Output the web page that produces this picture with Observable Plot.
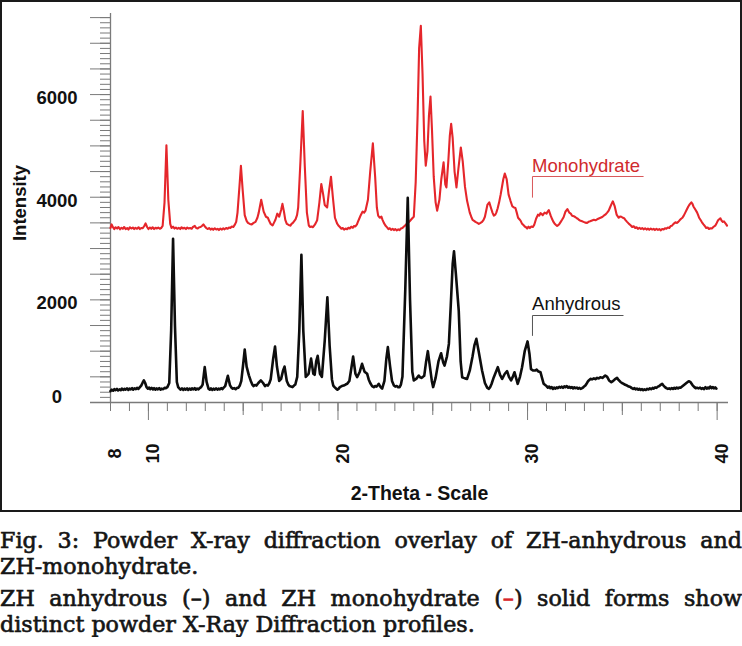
<!DOCTYPE html>
<html>
<head>
<meta charset="utf-8">
<script src="https://cdn.jsdelivr.net/npm/d3@7"></script>
<script src="https://cdn.jsdelivr.net/npm/@observablehq/plot@0.6"></script>
<style>
  html, body { margin: 0; padding: 0; background: #fff; }
  #wrap { position: relative; width: 742px; }
  #frame { position: absolute; left: 0; top: 0; width: 742px; height: 512px; box-sizing: border-box; border: 2px solid #1a1a1a; pointer-events: none; }
  #chart svg { display: block; }
  .cap { width: 742px; font-family: "DejaVu Serif", serif; font-weight: normal; font-size: 22.2px; color: #151515; line-height: 26px; -webkit-text-stroke: 0.65px #151515; }
  .cap .j { text-align: justify; text-align-last: justify; }
  .cap .l { text-align: left; }
  .red { color: #d8262b; -webkit-text-stroke: 0.65px #d8262b; }
</style>
</head>
<body>
<div id="wrap">
  <div id="chart"></div>
  <div id="frame"></div>
</div>
<div class="cap" style="margin-top:15px">
  <div class="j">Fig. 3: Powder X-ray diffraction overlay of ZH-anhydrous and</div>
  <div class="l">ZH-monohydrate.</div>
  <div class="j" style="margin-top:6px">ZH anhydrous (–) and ZH monohydrate (<span class="red">–</span>) solid forms show</div>
  <div class="l">distinct powder X-Ray Diffraction profiles.</div>
</div>
<script>
// ---- data: [2-theta (deg), intensity (counts)] ----
const anhydrous = [
[8.0,220],[8.07,250],[8.14,230],[8.2,260],[8.27,240],[8.34,265],[8.4,235],[8.47,255],[8.54,240],[8.6,270],
[8.67,245],[8.74,265],[8.8,250],[8.87,275],[8.94,245],[9.0,270],[9.07,255],[9.14,280],[9.2,250],[9.27,275],
[9.34,260],[9.4,285],[9.47,265],[9.55,300],[9.62,330],[9.7,390],[9.76,430],[9.83,380],[9.9,300],[9.97,270],
[10.04,290],[10.1,260],[10.17,285],[10.24,255],[10.3,280],[10.37,250],[10.44,275],[10.5,255],[10.57,280],[10.64,250],
[10.7,270],[10.78,260],[10.85,285],[10.92,280],[11.0,300],[11.1,380],[11.2,1400],[11.3,3190],[11.4,1500],[11.5,400],
[11.57,300],[11.64,270],[11.7,250],[11.77,275],[11.84,245],[11.9,270],[11.97,250],[12.04,275],[12.1,245],[12.17,270],
[12.24,250],[12.3,275],[12.37,255],[12.44,280],[12.5,250],[12.57,270],[12.64,255],[12.7,280],[12.78,300],[12.86,350],
[12.97,690],[13.07,400],[13.17,270],[13.24,250],[13.3,275],[13.37,245],[13.44,270],[13.5,250],[13.57,275],[13.64,250],
[13.7,270],[13.77,255],[13.84,280],[13.9,260],[13.97,290],[14.05,320],[14.19,520],[14.3,340],[14.38,290],[14.45,270],
[14.52,280],[14.6,260],[14.68,285],[14.75,290],[14.82,330],[14.9,420],[15.0,750],[15.08,1030],[15.18,700],[15.3,530],
[15.4,420],[15.48,350],[15.55,320],[15.62,340],[15.7,330],[15.8,380],[15.93,430],[16.05,380],[16.15,320],[16.22,340],
[16.3,330],[16.38,380],[16.45,450],[16.58,850],[16.68,1090],[16.78,700],[16.9,420],[17.0,460],[17.1,620],[17.18,700],
[17.3,420],[17.38,350],[17.45,320],[17.52,310],[17.6,300],[17.68,330],[17.75,350],[17.85,500],[17.96,1400],[18.07,2880],
[18.17,1400],[18.3,500],[18.45,560],[18.58,855],[18.7,560],[18.77,540],[18.85,800],[18.93,910],[19.05,560],[19.15,500],
[19.3,1200],[19.44,2050],[19.56,1100],[19.68,450],[19.75,330],[19.82,300],[19.9,270],[19.97,250],[20.04,270],[20.1,300],
[20.2,320],[20.3,330],[20.4,350],[20.48,364],[20.6,420],[20.8,895],[20.92,560],[21.01,493],[21.15,600],[21.27,753],
[21.4,600],[21.54,558],[21.62,450],[21.7,380],[21.8,320],[21.89,298],[21.96,320],[22.03,310],[22.1,340],[22.15,364],
[22.25,300],[22.33,270],[22.45,420],[22.55,850],[22.63,1080],[22.75,700],[22.85,420],[22.95,330],[23.02,310],[23.1,320],
[23.17,300],[23.25,300],[23.32,350],[23.4,500],[23.55,2200],[23.68,3990],[23.8,2000],[23.92,600],[24.0,430],[24.08,450],
[24.15,470],[24.26,526],[24.33,490],[24.4,480],[24.48,500],[24.55,520],[24.65,800],[24.74,1000],[24.85,700],[24.95,420],
[25.02,300],[25.15,480],[25.3,800],[25.44,960],[25.55,780],[25.62,720],[25.75,900],[25.85,1142],[25.95,1900],[26.05,2700],
[26.12,2946],[26.22,2500],[26.37,1790],[26.47,800],[26.55,493],[26.63,480],[26.7,470],[26.81,460],[26.95,620],[27.1,900],
[27.2,1120],[27.3,1240],[27.42,1000],[27.6,623],[27.75,380],[27.87,290],[27.95,266],[28.03,300],[28.1,360],[28.22,493],
[28.43,688],[28.55,540],[28.66,460],[28.8,560],[28.92,610],[29.02,500],[29.13,430],[29.22,500],[29.31,590],[29.4,470],
[29.48,364],[29.6,500],[29.71,688],[29.85,1000],[30.0,1190],[30.1,950],[30.18,650],[30.3,623],[30.41,623],[30.48,640],
[30.55,610],[30.68,590],[30.77,470],[30.85,364],[30.93,340],[31.0,320],[31.07,290],[31.14,310],[31.2,280],[31.27,300],
[31.34,266],[31.4,290],[31.47,270],[31.54,295],[31.6,280],[31.67,305],[31.74,290],[31.8,310],[31.87,285],[31.94,315],
[32.0,300],[32.07,320],[32.14,290],[32.2,305],[32.27,285],[32.34,300],[32.4,275],[32.47,295],[32.53,280],[32.6,290],
[32.67,270],[32.74,285],[32.8,265],[32.88,280],[32.95,300],[33.05,330],[33.12,370],[33.2,420],[33.32,461],[33.4,450],
[33.5,470],[33.58,455],[33.67,480],[33.75,470],[33.84,493],[33.95,480],[34.02,500],[34.1,526],[34.2,500],[34.3,430],
[34.42,396],[34.52,420],[34.6,450],[34.72,480],[34.8,440],[34.9,400],[34.98,380],[35.07,364],[35.15,345],[35.25,330],
[35.34,310],[35.43,300],[35.5,280],[35.57,265],[35.64,280],[35.7,255],[35.77,270],[35.84,250],[35.9,265],[35.97,245],
[36.04,260],[36.1,240],[36.17,255],[36.24,245],[36.31,265],[36.38,255],[36.45,275],[36.52,260],[36.6,285],[36.66,270],
[36.73,295],[36.8,285],[36.88,310],[36.95,320],[37.02,345],[37.1,364],[37.17,330],[37.25,300],[37.32,280],[37.4,265],
[37.47,275],[37.54,260],[37.6,280],[37.67,265],[37.74,285],[37.8,270],[37.87,290],[37.94,275],[38.0,290],[38.07,286],
[38.15,310],[38.25,340],[38.38,380],[38.5,415],[38.6,395],[38.7,340],[38.8,300],[38.87,280],[38.94,286],[39.02,275],
[39.1,290],[39.17,265],[39.24,280],[39.3,260],[39.38,298],[39.45,270],[39.52,290],[39.58,275],[39.64,311],[39.71,280],
[39.78,300],[39.84,275],[39.9,295],[39.96,270]
];
const monohydrate = [
[8.0,3400],[8.06,3470],[8.12,3420],[8.2,3380],[8.27,3415],[8.35,3390],[8.42,3420],[8.5,3375],[8.58,3405],[8.65,3385],
[8.72,3420],[8.8,3380],[8.88,3400],[8.95,3370],[9.02,3415],[9.1,3390],[9.18,3410],[9.25,3380],[9.32,3405],[9.4,3385],
[9.48,3415],[9.55,3380],[9.62,3400],[9.7,3395],[9.78,3440],[9.85,3490],[9.93,3420],[10.0,3380],[10.08,3410],[10.15,3385],
[10.22,3415],[10.3,3380],[10.38,3405],[10.45,3390],[10.52,3410],[10.6,3385],[10.67,3400],[10.75,3440],[10.85,3900],[10.95,5010],
[11.05,3950],[11.15,3480],[11.22,3400],[11.3,3425],[11.38,3390],[11.45,3410],[11.52,3385],[11.6,3405],[11.68,3380],[11.75,3415],
[11.82,3390],[11.9,3405],[11.98,3380],[12.05,3410],[12.12,3390],[12.2,3400],[12.28,3385],[12.35,3420],[12.45,3440],[12.52,3400],
[12.6,3390],[12.68,3415],[12.75,3420],[12.82,3440],[12.9,3470],[12.98,3430],[13.05,3400],[13.12,3380],[13.2,3400],[13.28,3370],
[13.35,3390],[13.42,3365],[13.5,3395],[13.58,3370],[13.65,3385],[13.72,3360],[13.8,3390],[13.88,3370],[13.95,3395],[14.02,3375],
[14.1,3400],[14.18,3385],[14.25,3410],[14.32,3400],[14.4,3430],[14.48,3420],[14.55,3460],[14.63,3520],[14.7,3700],[14.8,4200],
[14.88,4614],[14.97,4150],[15.08,3650],[15.18,3540],[15.25,3500],[15.35,3480],[15.45,3470],[15.55,3500],[15.65,3520],[15.75,3600],
[15.82,3700],[15.95,3950],[16.08,3720],[16.2,3620],[16.3,3600],[16.38,3530],[16.45,3480],[16.55,3450],[16.62,3500],[16.7,3560],
[16.8,3680],[16.9,3620],[17.0,3750],[17.07,3870],[17.15,3720],[17.22,3560],[17.3,3480],[17.4,3460],[17.49,3446],[17.55,3480],
[17.62,3500],[17.7,3540],[17.76,3570],[17.84,3650],[17.9,3800],[18.02,4700],[18.14,5680],[18.25,4600],[18.36,3700],[18.46,3450],
[18.53,3420],[18.6,3430],[18.68,3415],[18.75,3450],[18.82,3490],[18.9,3550],[19.02,3900],[19.12,4257],[19.22,4050],[19.3,3850],
[19.43,3800],[19.52,4100],[19.63,4400],[19.73,4000],[19.84,3600],[19.95,3490],[20.02,3450],[20.1,3420],[20.18,3385],[20.25,3400],
[20.32,3370],[20.4,3390],[20.48,3375],[20.55,3405],[20.62,3390],[20.7,3425],[20.78,3405],[20.85,3440],[20.92,3430],[21.0,3470],
[21.05,3520],[21.12,3580],[21.2,3650],[21.3,3720],[21.38,3700],[21.45,3738],[21.58,3950],[21.7,4500],[21.84,5050],[21.96,4400],
[22.05,3800],[22.12,3641],[22.2,3600],[22.29,3621],[22.35,3560],[22.42,3500],[22.5,3450],[22.59,3413],[22.66,3380],[22.73,3395],
[22.8,3365],[22.88,3385],[22.95,3360],[23.02,3380],[23.1,3355],[23.18,3375],[23.25,3360],[23.32,3390],[23.4,3400],[23.48,3430],
[23.55,3450],[23.62,3480],[23.7,3500],[23.78,3530],[23.85,3560],[23.92,3590],[24.0,3620],[24.1,4300],[24.2,5600],[24.28,6900],
[24.37,7340],[24.46,6400],[24.55,5100],[24.63,4614],[24.72,4900],[24.8,5600],[24.88,5960],[24.96,5300],[25.05,4400],[25.15,3900],
[25.23,3738],[25.35,3950],[25.45,4350],[25.57,4680],[25.66,4250],[25.72,4190],[25.82,4700],[25.9,5200],[25.97,5430],[26.05,5150],
[26.15,4500],[26.25,4192],[26.35,4550],[26.48,4970],[26.58,4700],[26.7,4200],[26.81,3930],[26.95,3700],[27.03,3620],[27.1,3560],
[27.18,3540],[27.25,3520],[27.35,3500],[27.43,3480],[27.52,3500],[27.6,3520],[27.68,3560],[27.75,3620],[27.82,3740],[27.88,3850],
[27.98,3900],[28.08,3780],[28.15,3700],[28.22,3640],[28.3,3660],[28.35,3700],[28.42,3780],[28.5,3900],[28.58,4050],[28.65,4200],
[28.72,4350],[28.8,4460],[28.9,4350],[29.0,4050],[29.1,3930],[29.2,3820],[29.28,3800],[29.36,3790],[29.43,3700],[29.5,3600],
[29.57,3570],[29.63,3544],[29.7,3490],[29.78,3460],[29.85,3430],[29.92,3415],[29.98,3390],[30.05,3425],[30.12,3400],[30.2,3430],
[30.28,3420],[30.35,3460],[30.45,3580],[30.55,3660],[30.62,3640],[30.68,3690],[30.75,3670],[30.8,3650],[30.9,3700],[31.0,3680],
[31.06,3720],[31.12,3750],[31.22,3640],[31.3,3570],[31.35,3530],[31.42,3490],[31.5,3460],[31.56,3440],[31.6,3450],[31.68,3480],
[31.75,3520],[31.82,3560],[31.9,3610],[32.0,3720],[32.1,3770],[32.2,3700],[32.28,3680],[32.35,3640],[32.44,3630],[32.53,3610],
[32.6,3590],[32.65,3580],[32.72,3555],[32.8,3540],[32.88,3530],[32.95,3520],[33.04,3505],[33.14,3500],[33.22,3520],[33.3,3530],
[33.4,3545],[33.5,3560],[33.58,3550],[33.67,3570],[33.76,3585],[33.85,3600],[33.94,3615],[34.02,3640],[34.1,3660],[34.2,3700],
[34.28,3740],[34.35,3800],[34.42,3860],[34.5,3920],[34.6,3820],[34.7,3660],[34.75,3630],[34.81,3600],[34.88,3625],[34.95,3620],
[35.02,3600],[35.1,3590],[35.18,3550],[35.25,3520],[35.35,3480],[35.45,3450],[35.52,3420],[35.6,3435],[35.68,3400],[35.75,3415],
[35.82,3385],[35.9,3405],[35.98,3380],[36.05,3400],[36.12,3375],[36.2,3395],[36.28,3370],[36.35,3390],[36.42,3365],[36.5,3390],
[36.58,3370],[36.65,3385],[36.72,3360],[36.8,3385],[36.88,3365],[36.95,3380],[37.02,3355],[37.1,3380],[37.18,3370],[37.25,3395],
[37.32,3385],[37.4,3410],[37.48,3400],[37.55,3440],[37.62,3446],[37.7,3480],[37.8,3510],[37.88,3500],[37.95,3520],[38.02,3550],
[38.1,3580],[38.17,3600],[38.24,3641],[38.32,3700],[38.4,3760],[38.48,3820],[38.55,3860],[38.64,3900],[38.7,3870],[38.75,3820],
[38.85,3760],[38.94,3705],[39.0,3650],[39.05,3600],[39.12,3560],[39.2,3511],[39.28,3470],[39.35,3440],[39.42,3400],[39.5,3410],
[39.57,3380],[39.64,3395],[39.72,3390],[39.8,3420],[39.9,3446],[39.98,3500],[40.05,3550],[40.17,3589],[40.24,3540],[40.3,3520],
[40.36,3530],[40.42,3500],[40.48,3470],[40.52,3446]
];

// tick values and labels
const xTickLabels = [8, 10, 20, 30, 40];
const xMajorTicks = [10, 20, 30, 40];
const xMediumTicks = [15, 25, 35];
const xMinorTicks = d3.range(8, 41, 1);
const yLabelTicks = [0, 2000, 4000, 6000];
const yMediumTicks = d3.range(0, 7600, 500);
const yMinorTicks = d3.range(0, 7600, 100);

// series labels and their bracket leaders (data coordinates)
const seriesLabels = [
  {name: "Monohydrate", theta: 30.24, intensity: 4521, color: "#d02a2d"},
  {name: "Anhydrous", theta: 30.24, intensity: 1832, color: "#111111"}
];
const monoBracket = [[30.26, 4000], [30.26, 4404], [36.1, 4404]];
const anhBracket = [[30.26, 1306], [30.26, 1695], [35.04, 1695]];

const axisFont = "'Liberation Sans', Arial, Helvetica, sans-serif";
const axisGray = "#7a7a7a";

const chart = Plot.plot({
  width: 742,
  height: 512,
  marginLeft: 110,
  marginRight: 14,
  marginTop: 13,
  marginBottom: 110,
  style: {background: "white", fontFamily: axisFont, overflow: "visible"},
  x: {domain: [8, 40.6]},
  y: {domain: [0, 7580]},
  marks: [
    // axis lines
    Plot.ruleY([0], {stroke: axisGray, strokeWidth: 1.3, insetLeft: -20}),
    Plot.ruleX([8], {stroke: axisGray, strokeWidth: 1.3}),
    // x ticks
    Plot.axisX(xMinorTicks, {tickSize: 9, tickFormat: () => "", stroke: axisGray, label: null}),
    Plot.axisX(xMediumTicks, {tickSize: 13, tickFormat: () => "", stroke: axisGray, label: null}),
    Plot.axisX(xMajorTicks, {tickSize: 18, tickFormat: () => "", stroke: axisGray, label: null}),
    // y ticks
    Plot.axisY(yMinorTicks, {tickSize: 10, tickFormat: () => "", stroke: axisGray, label: null}),
    Plot.axisY(yMediumTicks, {tickSize: 20, tickFormat: () => "", stroke: axisGray, label: null}),
    // tick labels
    Plot.text(xTickLabels, {x: d => d, text: d => String(d), frameAnchor: "bottom", rotate: -90,
      textAnchor: "middle", lineAnchor: "middle", dy: 51, dx: 5, fontSize: 18, fontWeight: "bold", fill: "#111"}),
    Plot.text(yLabelTicks.filter(d => d > 0), {y: d => d, text: d => String(d), frameAnchor: "left",
      textAnchor: "middle", lineAnchor: "middle", dx: -53.5, dy: 3.5, fontSize: 18.5, fontWeight: "bold", fill: "#111"}),
    Plot.text(yLabelTicks.filter(d => d === 0), {y: d => d, text: d => String(d), frameAnchor: "left",
      textAnchor: "middle", lineAnchor: "middle", dx: -53.5, dy: -5, fontSize: 18.5, fontWeight: "bold", fill: "#111"}),
    // axis titles
    Plot.text(["Intensity"], {text: d => d, frameAnchor: "left", rotate: -90, textAnchor: "middle",
      lineAnchor: "middle", dx: -90, dy: -5, fontSize: 18.5, fontWeight: "bold", fill: "#111"}),
    Plot.text(["2-Theta - Scale"], {text: d => d, frameAnchor: "bottom", textAnchor: "middle",
      lineAnchor: "middle", dy: 91, fontSize: 19.5, fontWeight: "bold", fill: "#111"}),
    // patterns
    Plot.line(monohydrate, {x: d => d[0], y: d => d[1], stroke: "#e5262b", strokeWidth: 2.1, strokeLinejoin: "round"}),
    Plot.line(anhydrous, {x: d => d[0], y: d => d[1], stroke: "#0d0d0d", strokeWidth: 2.6, strokeLinejoin: "round"}),
    // series labels with bracket leaders
    Plot.line(monoBracket, {x: d => d[0], y: d => d[1], stroke: "#d9585a", strokeWidth: 1}),
    Plot.line(anhBracket, {x: d => d[0], y: d => d[1], stroke: "#555", strokeWidth: 1}),
    Plot.text(seriesLabels, {x: "theta", y: "intensity", text: "name", fill: "color", textAnchor: "start",
      lineAnchor: "bottom", fontSize: 18.5, dy: 2})
  ]
});
document.getElementById("chart").appendChild(chart);
</script>
</body>
</html>
